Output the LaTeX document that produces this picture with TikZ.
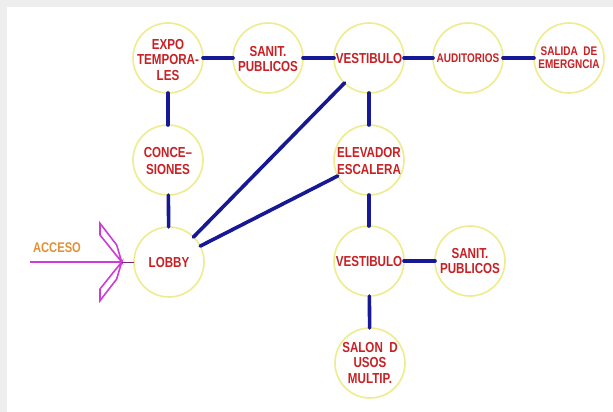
\documentclass[tikz,border=0pt]{standalone}
\usepackage{fontspec}
\newfontfamily\cadfont{Liberation Sans}[FakeStretch=0.8]
\definecolor{ringyellow}{RGB}{238,236,140}
\definecolor{linkblue}{RGB}{22,24,150}
\definecolor{labelred}{RGB}{200,32,36}
\definecolor{accessmag}{RGB}{205,60,215}
\definecolor{accessorange}{RGB}{226,146,52}
\definecolor{shadowgray}{RGB}{238,238,238}
\tikzset{
  room/.style={circle, draw=ringyellow, line width=1.6pt, minimum size=70pt, inner sep=0pt, outer sep=0pt},
  lbl/.style={font=\cadfont\bfseries\fontsize{14.5}{15.5}\selectfont, text=labelred, align=center, inner sep=0pt},
  lblsmall/.style={font=\cadfont\bfseries\fontsize{12.5}{13}\selectfont, text=labelred, align=center, inner sep=0pt},
  link/.style={draw=linkblue, line width=3.6pt, line cap=round},
  accessline/.style={draw=accessmag, line width=1.6pt}
}
\begin{document}
\begin{tikzpicture}[x=1pt,y=-1pt]
\fill[shadowgray] (0,0) rectangle (613,412);
\fill[white] (7,7) rectangle (613,412);
\useasboundingbox (0,0) rectangle (613,412);

% rooms
\node[room] (expo)   at (168,58)  {};
\node[room] (sanitA) at (268,58)  {};
\node[room] (vestA)  at (369,58)  {};
\node[room] (aud)    at (468,58)  {};
\node[room] (salida) at (569,58)  {};
\node[room] (conc)   at (168,160) {};
\node[room] (elev)   at (369,160) {};
\node[room] (lobby)  at (169,262) {};
\node[room] (vestB)  at (369,261) {};
\node[room] (sanitB) at (470,261) {};
\node[room] (salon)  at (370,363) {};

% labels
\node[lbl] (t-expo)   at (168,60)  {EXPO\\TEMPORA-\\LES};
\node[lbl] (t-sanitA) at (268,59)  {SANIT.\\PUBLICOS};
\node[lbl] (t-vestA)  at (369,59)  {VESTIBULO};
\node[lblsmall] (t-aud) at (468,58) {AUDITORIOS};
\node[lblsmall] (t-salida) at (569,58) {SALIDA\ \ DE\\EMERGNCIA};
\node[lbl, font=\cadfont\bfseries\fontsize{14.5}{17}\selectfont] (t-conc) at (168,161) {CONCE–\\SIONES};
\node[lbl, font=\cadfont\bfseries\fontsize{14.5}{17}\selectfont] (t-elev) at (369,161) {ELEVADOR\\ESCALERA};
\node[lbl] (t-lobby)  at (169,263) {LOBBY};
\node[lbl] (t-vestB)  at (369,262) {VESTIBULO};
\node[lbl] (t-sanitB) at (470,261) {SANIT.\\PUBLICOS};
\node[lbl] (t-salon)  at (370,363) {SALON\ \ D\\USOS\\MULTIP.};

% connectors
\draw[link] (expo) -- (sanitA);
\draw[link] (sanitA) -- (vestA);
\draw[link] (vestA) -- (aud);
\draw[link] (aud) -- (salida);
\draw[link] (expo) -- (conc);
\draw[link] (conc) -- (lobby);
\draw[link] (vestA) -- (elev);
\draw[link] (elev) -- (vestB);
\draw[link] (vestB) -- (salon);
\draw[link] (vestB) -- (sanitB);
\draw[link] (lobby) -- (vestA);
\draw[link] (lobby) -- (elev);

% access arrow
\coordinate (accstart) at (30,262);
\coordinate (acctip) at (121.7,262);
\draw[accessline] (accstart) -- (acctip);
\draw[accessline, line join=miter] (100,223.3) -- (116.7,245) -- (acctip) -- (100,235) -- cycle;
\draw[accessline, line join=miter] (100,300.7) -- (116.7,279) -- (acctip) -- (100,289) -- cycle;
\draw[draw=accessmag!60!black, line width=0.8pt] (acctip) -- (lobby.west);
\node[font=\cadfont\bfseries\fontsize{14}{15}\selectfont, text=accessorange, inner sep=0pt] (acceso) at (57,248) {ACCESO};
\end{tikzpicture}
\end{document}
